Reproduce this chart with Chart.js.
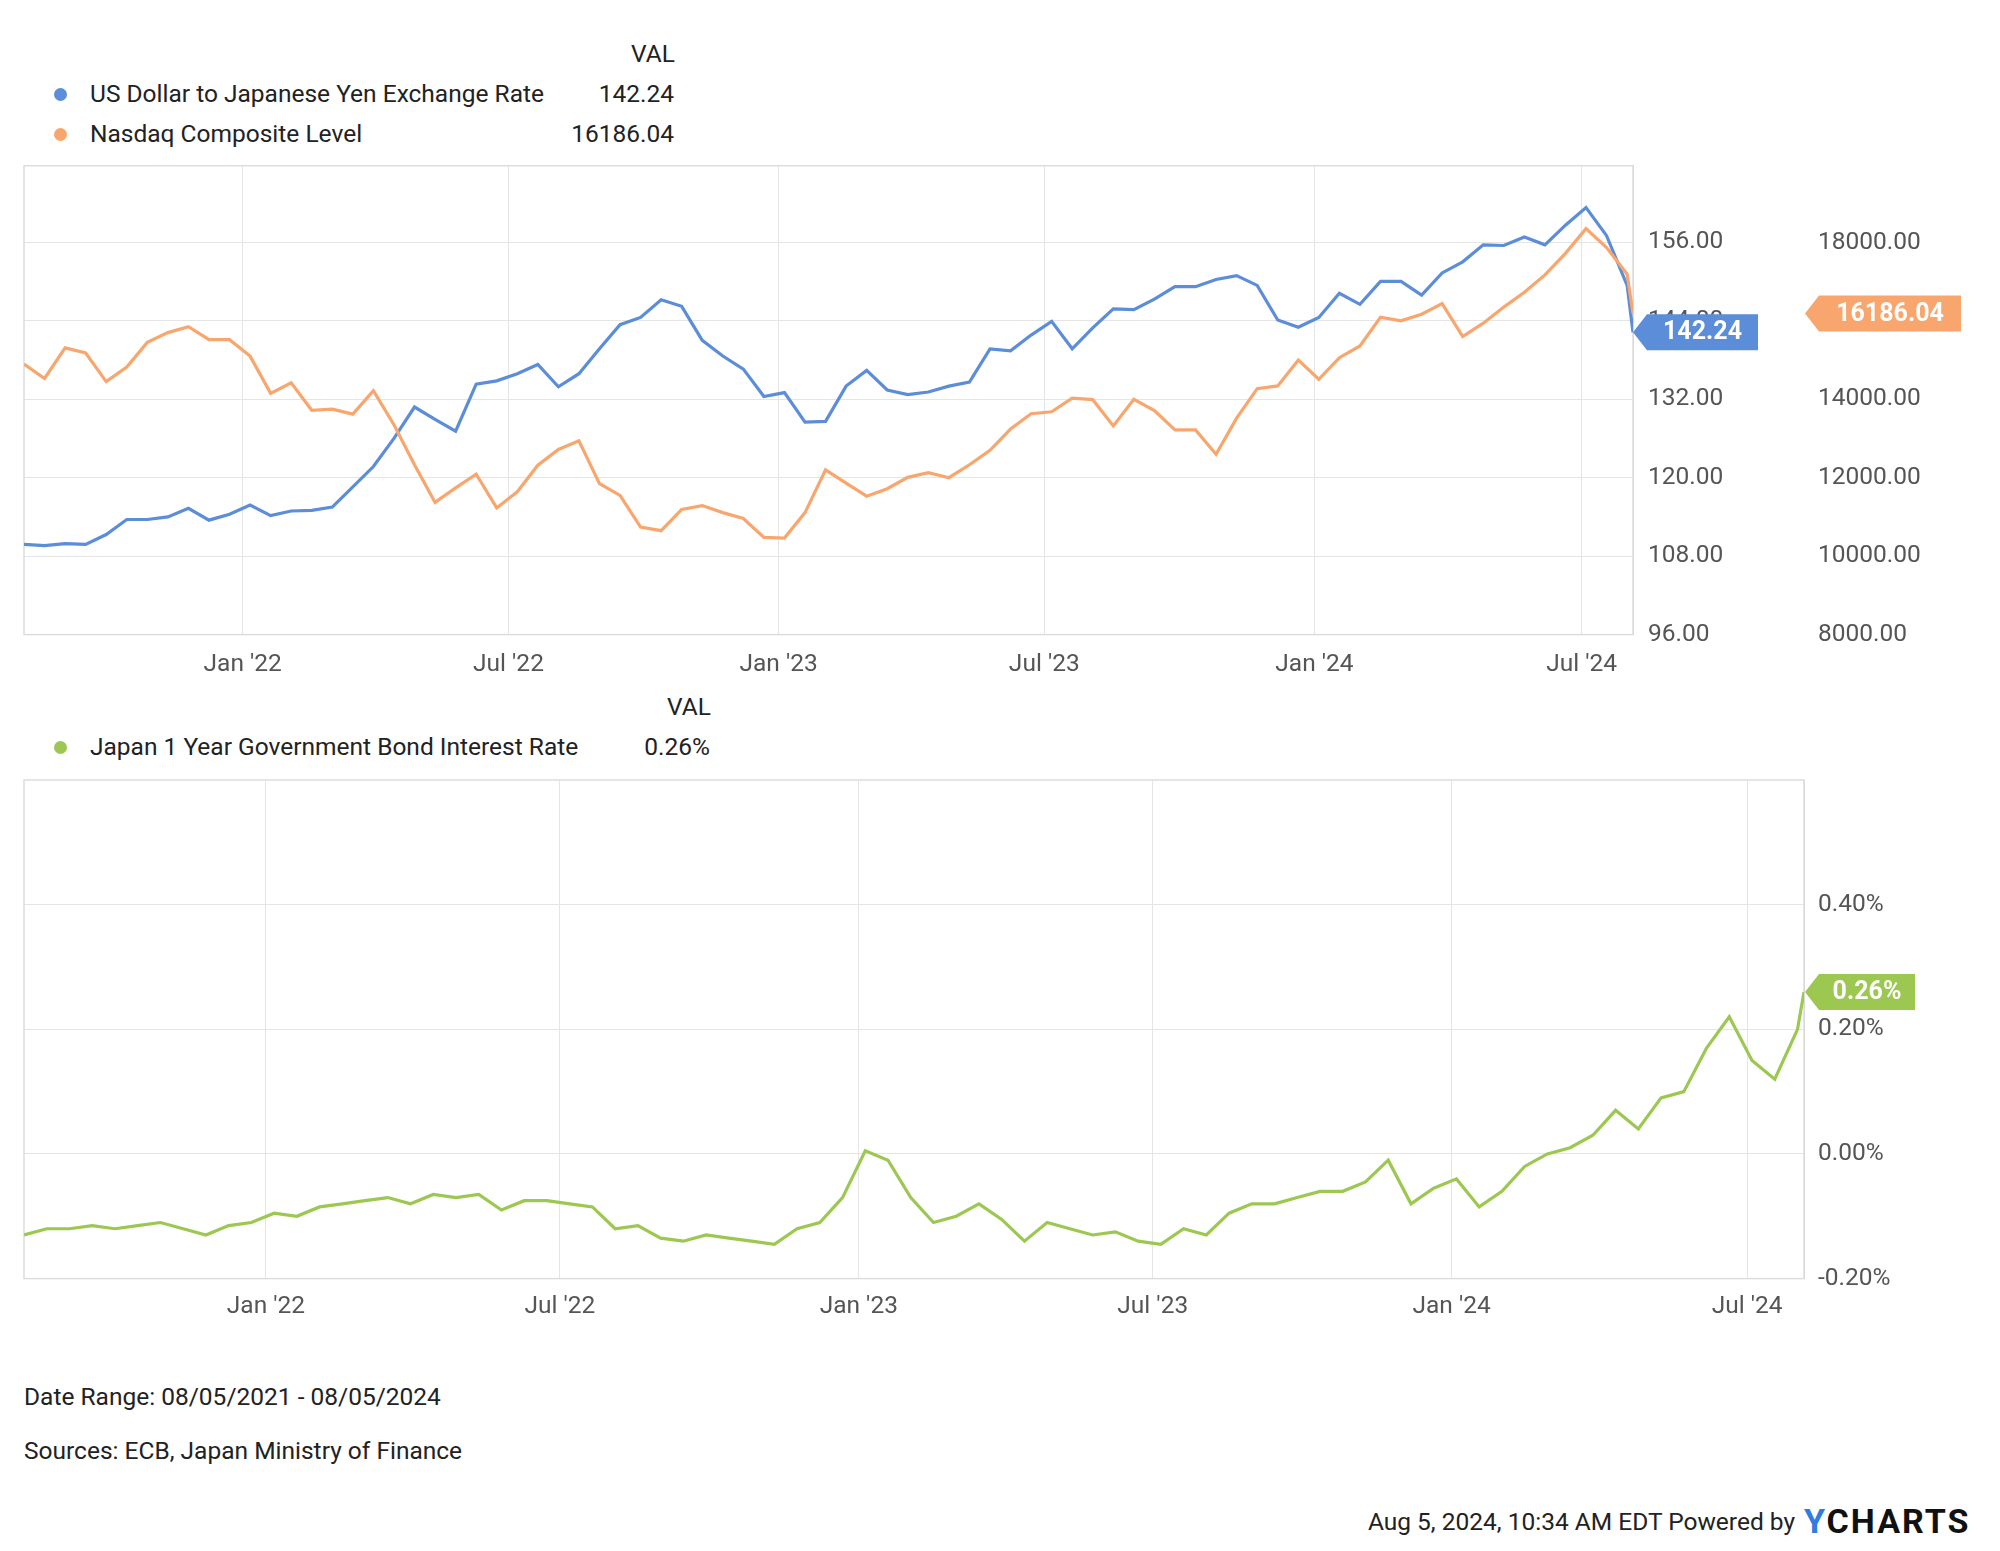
<!DOCTYPE html>
<html><head><meta charset="utf-8">
<script src="https://cdn.jsdelivr.net/npm/chart.js@4"></script>
<style>
body{margin:0;width:2000px;height:1551px;background:#fff;font-family:Roboto,sans-serif;color:#222;position:relative;overflow:hidden}
.t{position:absolute;font-size:24.5px;white-space:nowrap;line-height:1}
.dot{position:absolute;width:13px;height:13px;border-radius:50%}
canvas{position:absolute}
</style></head><body>
<div class="t" style="left:631px;top:42px">VAL</div>
<div class="dot" style="left:54px;top:88px;background:#5b8dd9"></div>
<div class="t" style="left:90px;top:82px">US Dollar to Japanese Yen Exchange Rate</div>
<div class="t" style="right:1326px;top:82px">142.24</div>
<div class="dot" style="left:54px;top:128px;background:#f9a66e"></div>
<div class="t" style="left:90px;top:122px">Nasdaq Composite Level</div>
<div class="t" style="right:1326px;top:122px">16186.04</div>
<div class="t" style="left:667px;top:695px">VAL</div>
<div class="dot" style="left:54px;top:741px;background:#9cc751"></div>
<div class="t" style="left:90px;top:735px">Japan 1 Year Government Bond Interest Rate</div>
<div class="t" style="right:1290px;top:735px">0.26%</div>
<div class="t" style="left:24px;top:1385px">Date Range: 08/05/2021 - 08/05/2024</div>
<div class="t" style="left:24px;top:1439px">Sources: ECB, Japan Ministry of Finance</div>
<div class="t" style="right:205px;top:1510px">Aug 5, 2024, 10:34 AM EDT Powered by</div>
<div class="t" style="left:1804px;top:1504px;font-size:34px;font-weight:bold;letter-spacing:2px;color:#111"><span style="color:#2f7de1">Y</span>CHARTS</div>
<canvas id="c1" width="2000" height="560" style="left:0;top:136px"></canvas>
<canvas id="c2" width="2000" height="600" style="left:0;top:742px"></canvas>
<script>
const dates=["2021-08-05","2021-08-19","2021-09-02","2021-09-16","2021-09-30","2021-10-14","2021-10-28","2021-11-11","2021-11-25","2021-12-09","2021-12-23","2022-01-06","2022-01-20","2022-02-03","2022-02-17","2022-03-03","2022-03-17","2022-03-31","2022-04-14","2022-04-28","2022-05-12","2022-05-26","2022-06-09","2022-06-23","2022-07-07","2022-07-21","2022-08-04","2022-08-18","2022-09-01","2022-09-15","2022-09-29","2022-10-13","2022-10-27","2022-11-10","2022-11-24","2022-12-08","2022-12-22","2023-01-05","2023-01-19","2023-02-02","2023-02-16","2023-03-02","2023-03-16","2023-03-30","2023-04-13","2023-04-27","2023-05-11","2023-05-25","2023-06-08","2023-06-22","2023-07-06","2023-07-20","2023-08-03","2023-08-17","2023-08-31","2023-09-14","2023-09-28","2023-10-12","2023-10-26","2023-11-09","2023-11-23","2023-12-07","2023-12-21","2024-01-04","2024-01-18","2024-02-01","2024-02-15","2024-02-29","2024-03-14","2024-03-28","2024-04-11","2024-04-25","2024-05-09","2024-05-23","2024-06-06","2024-06-20","2024-07-04","2024-07-18","2024-08-01","2024-08-05"];
const usdJpy=[109.8,109.6,109.9,109.8,111.3,113.6,113.6,114.0,115.3,113.5,114.4,115.8,114.2,114.9,115.0,115.5,118.6,121.7,126.0,130.8,128.9,127.1,134.3,134.8,135.9,137.3,133.9,135.9,139.7,143.4,144.5,147.2,146.2,141.0,138.6,136.6,132.4,133.0,128.5,128.6,134.0,136.4,133.4,132.7,133.1,134.0,134.6,139.7,139.4,141.8,143.9,139.7,142.9,145.8,145.7,147.3,149.2,149.2,150.3,150.9,149.4,144.1,143.0,144.5,148.2,146.5,150.0,150.0,147.9,151.3,153.0,155.6,155.5,156.8,155.6,158.6,161.3,157.0,149.4,142.24];
const nasdaq=[14900,14530,15310,15180,14450,14820,15450,15700,15850,15520,15520,15100,14150,14420,13720,13750,13620,14220,13350,12330,11370,11740,12090,11230,11640,12320,12720,12940,11850,11550,10740,10650,11190,11290,11110,10960,10480,10460,11110,12200,11860,11530,11720,12010,12130,12000,12330,12700,13240,13630,13680,14030,13990,13320,14000,13710,13220,13220,12600,13520,14270,14340,15000,14510,15060,15360,16090,16000,16170,16440,15600,15940,16350,16730,17170,17720,18350,17870,17190,16186.04];
const jgb1y=[-0.13,-0.12,-0.12,-0.115,-0.12,-0.115,-0.11,-0.12,-0.13,-0.115,-0.11,-0.095,-0.10,-0.085,-0.08,-0.075,-0.07,-0.08,-0.065,-0.07,-0.065,-0.09,-0.075,-0.075,-0.08,-0.085,-0.12,-0.115,-0.135,-0.14,-0.13,-0.135,-0.14,-0.145,-0.12,-0.11,-0.07,0.005,-0.01,-0.07,-0.11,-0.10,-0.08,-0.105,-0.14,-0.11,-0.12,-0.13,-0.125,-0.14,-0.145,-0.12,-0.13,-0.095,-0.08,-0.08,-0.07,-0.06,-0.06,-0.045,-0.01,-0.08,-0.055,-0.04,-0.085,-0.06,-0.02,0.0,0.01,0.03,0.07,0.04,0.09,0.10,0.17,0.22,0.15,0.12,0.20,0.26];
const xTickDates=["2022-01-01","2022-07-01","2023-01-01","2023-07-01","2024-01-01","2024-07-01"];
const xTickLabels=["Jan '22","Jul '22","Jan '23","Jul '23","Jan '24","Jul '24"];
const yenTicks=[96,108,120,132,144,156];
const ndqTicks=[8000,10000,12000,14000,16000,18000];
const jgbTicks=[-0.2,0,0.2,0.4];

const t0=Date.parse(dates[0]);
const day=d=>(Date.parse(d)-t0)/86400000;
const xs=dates.map(day);
const xt=xTickDates.map(day);
const pts=a=>a.map((v,i)=>({x:xs[i],y:v}));
const F="Roboto";
const gridC="#e5e5e5";
function xScale(pad){return {type:'linear',min:0,max:1096,
  afterBuildTicks:s=>{s.ticks=xt.map(v=>({value:v}))},
  ticks:{callback:(v)=>xTickLabels[xt.indexOf(v)],font:{family:F,size:24.5},color:'#555',padding:pad,maxRotation:0,autoSkip:false},
  grid:{color:gridC,drawTicks:false},border:{color:'#ccc'}};}
const frame={id:'frame',beforeDatasetsDraw(c){const a=c.chartArea,ctx=c.ctx;ctx.save();ctx.strokeStyle='#ddd';ctx.lineWidth=1.5;
  ctx.strokeRect(a.left,a.top,a.right-a.left,a.bottom-a.top);ctx.restore();}};
function tag(ctx,x,y,w,h,col,txt){
  ctx.save();ctx.fillStyle=col;ctx.beginPath();
  ctx.moveTo(x,y);ctx.lineTo(x+14,y-h/2);ctx.lineTo(x+w,y-h/2);ctx.lineTo(x+w,y+h/2);ctx.lineTo(x+14,y+h/2);ctx.closePath();ctx.fill();
  ctx.fillStyle='#fff';ctx.font='bold 25px Roboto';ctx.textAlign='center';ctx.textBaseline='middle';
  ctx.fillText(txt,x+7+w/2,y+1);ctx.restore();}
const tags1={id:'tags1',afterDraw(c){const ctx=c.ctx;
  tag(ctx,c.scales.x.right,c.scales.yen.getPixelForValue(usdJpy[usdJpy.length-1]),125,36,'#5b8dd9',usdJpy[usdJpy.length-1].toFixed(2));
  tag(ctx,1805,c.scales.ndq.getPixelForValue(nasdaq[nasdaq.length-1]),156,36,'#f9a66e',nasdaq[nasdaq.length-1].toFixed(2));}};
const tags2={id:'tags2',afterDraw(c){const ctx=c.ctx;
  tag(ctx,1805,c.scales.y.getPixelForValue(jgb1y[jgb1y.length-1]),110,36,'#9cc751',jgb1y[jgb1y.length-1].toFixed(2)+'%');}};
const ds=(d,col,ax)=>({data:pts(d),borderColor:col,borderWidth:3.2,pointRadius:0,tension:0,yAxisID:ax});
new Chart(document.getElementById('c1'),{type:'line',
 data:{datasets:[ds(nasdaq,'#f9a66e','ndq'),ds(usdJpy,'#5b8dd9','yen')]},
 options:{responsive:false,animation:false,layout:{padding:{top:1,left:24,right:0,bottom:0}},
  plugins:{legend:{display:false},tooltip:{enabled:false}},
  scales:{x:xScale(16),
   yen:{position:'right',min:96,max:167.7,afterBuildTicks:s=>{s.ticks=yenTicks.map(v=>({value:v}))},
     afterFit:s=>{s.width=185},ticks:{callback:v=>v.toFixed(2),font:{family:F,size:24.5},color:'#555',padding:15},
     grid:{color:gridC,drawTicks:false},border:{color:'#ccc'}},
   ndq:{position:'right',min:8000,max:19955,afterBuildTicks:s=>{s.ticks=ndqTicks.map(v=>({value:v}))},
     afterFit:s=>{s.width=182},ticks:{callback:v=>v.toFixed(2),font:{family:F,size:24.5},color:'#555',padding:0},
     grid:{display:false,drawTicks:false},border:{display:false}}}},
 plugins:[frame,tags1]});
new Chart(document.getElementById('c2'),{type:'line',
 data:{datasets:[ds(jgb1y,'#9cc751','y')]},
 options:{responsive:false,animation:false,layout:{padding:{top:38,left:24,right:0,bottom:6}},
  plugins:{legend:{display:false},tooltip:{enabled:false}},
  scales:{x:xScale(14),
   y:{position:'right',min:-0.2,max:0.6,afterBuildTicks:s=>{s.ticks=jgbTicks.map(v=>({value:v}))},
     afterFit:s=>{s.width=196},ticks:{callback:v=>v.toFixed(2)+'%',font:{family:F,size:24.5},color:'#555',padding:14},
     grid:{color:gridC,drawTicks:false},border:{color:'#ccc'}}}},
 plugins:[frame,tags2]});
</script></body></html>
